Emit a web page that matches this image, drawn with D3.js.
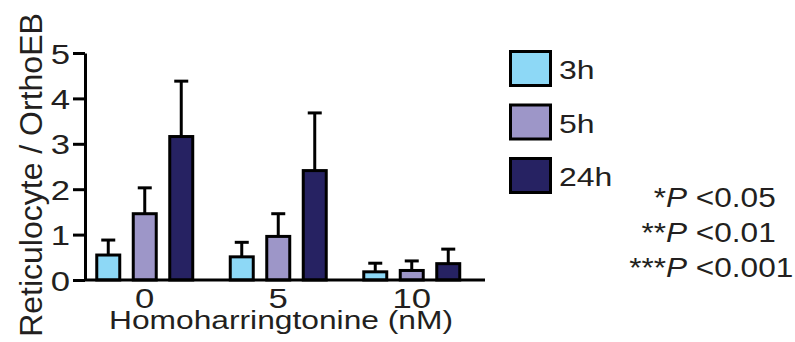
<!DOCTYPE html>
<html lang="en">
<head>
<meta charset="UTF-8">
<title>Reticulocyte / OrthoEB</title>
<script src="https://d3js.org/d3.v7.min.js"></script>
<style>
  body { margin: 0; background: #fff; }
  svg text { font-family: "Liberation Sans", Arial, Helvetica, sans-serif; fill: #231f20; }
  .axis path, .axis line { stroke: #000; stroke-width: 3; }
  .bar { stroke: #000; stroke-width: 3; }
  .err { stroke: #000; stroke-width: 3; fill: none; }
</style>
</head>
<body>
<svg id="chart" width="795" height="342"></svg>
<script>
// data
const doses = ["0", "5", "10"];
const series = ["3h", "5h", "24h"];
const colors = ["#8dd8f6", "#9d96c8", "#262262"];
const means = {
  "3h":  [0.55, 0.51, 0.18],
  "5h":  [1.46, 0.96, 0.21],
  "24h": [3.16, 2.41, 0.36]
};
const errTops = {
  "3h":  [0.88, 0.83, 0.37],
  "5h":  [2.03, 1.46, 0.42],
  "24h": [4.38, 3.68, 0.68]
};
const yTicks = [0, 1, 2, 3, 4, 5];
const pLines = [["*", "P", " <0.05"], ["**", "P", " <0.01"], ["***", "P", " <0.001"]];

// text in the figure is a bit wider than the plain font
const SX = 1.24;

const svg = d3.select("#chart");

const y = d3.scaleLinear().domain([0, 5]).range([280, 53]);
const x0 = d3.scaleBand().domain(doses).range([78, 478.5]);
const x1 = d3.scaleBand().domain(series).range([0, x0.bandwidth()])
  .paddingInner(0.37).paddingOuter(0.514);
const color = d3.scaleOrdinal().domain(series).range(colors);

const rows = [];
series.forEach(s => doses.forEach((d, i) => rows.push({ s, d, v: means[s][i], e: errTops[s][i] })));

// error bars (drawn first so the bar outline covers the stem)
const eg = svg.append("g");
rows.forEach(r => {
  const cx = x0(r.d) + x1(r.s) + x1.bandwidth() / 2;
  eg.append("line").attr("class", "err")
    .attr("x1", cx).attr("x2", cx).attr("y1", y(r.v)).attr("y2", y(r.e));
  eg.append("line").attr("class", "err")
    .attr("x1", cx - 7).attr("x2", cx + 7).attr("y1", y(r.e)).attr("y2", y(r.e));
});

svg.append("g").selectAll("rect").data(rows).join("rect")
  .attr("class", "bar")
  .attr("x", r => x0(r.d) + x1(r.s))
  .attr("width", x1.bandwidth())
  .attr("y", r => y(r.v))
  .attr("height", r => y(0) - y(r.v))
  .attr("fill", r => color(r.s));

// y axis
const ya = svg.append("g").attr("class", "axis")
  .attr("transform", "translate(85,0)")
  .call(d3.axisLeft(y).tickValues(yTicks).tickFormat(d3.format("d"))
    .tickSize(12).tickSizeOuter(0));
ya.selectAll("text")
  .style("font-size", "28px")
  .attr("x", -15 / SX).attr("dy", "0.36em")
  .attr("transform", `scale(${SX},1)`);

// x axis (baseline only)
const xa = svg.append("g").attr("class", "axis")
  .attr("transform", "translate(0,280)")
  .call(d3.axisBottom(x0).tickSize(0));
xa.select(".domain").attr("d", "M85,0H485");
xa.selectAll("text")
  .style("font-size", "28px")
  .attr("y", 28).attr("dy", 0)
  .attr("transform", `scale(${SX},1)`);

// axis titles
svg.append("g").attr("transform", `translate(281,329) scale(1.27,1)`)
  .append("text")
  .attr("text-anchor", "middle")
  .style("font-size", "25px")
  .text("Homoharringtonine (nM)");

svg.append("text")
  .attr("transform", "translate(42,175) rotate(-90)")
  .attr("text-anchor", "middle")
  .style("font-size", "32px")
  .text("Reticulocyte / OrthoEB");

// legend
const leg = svg.append("g").attr("transform", "translate(510.5,51.5)");
series.forEach((s, i) => {
  const g = leg.append("g").attr("transform", `translate(0,${i * 53.5})`);
  g.append("rect").attr("class", "bar")
    .attr("width", 40).attr("height", 34).attr("fill", color(s));
  g.append("g").attr("transform", "translate(48.5,27.8) scale(1.28,1)")
    .append("text").style("font-size", "25px").text(s);
});

// significance key
pLines.forEach((p, i) => {
  const g = svg.append("g")
    .attr("transform", `translate(666,${207 + i * 35}) scale(1.17,1)`);
  g.append("text").attr("text-anchor", "end").style("font-size", "27px").text(p[0]);
  const t = g.append("text").style("font-size", "27px");
  t.append("tspan").style("font-style", "italic").text(p[1]);
  t.append("tspan").text(p[2]);
});
</script>
</body>
</html>
